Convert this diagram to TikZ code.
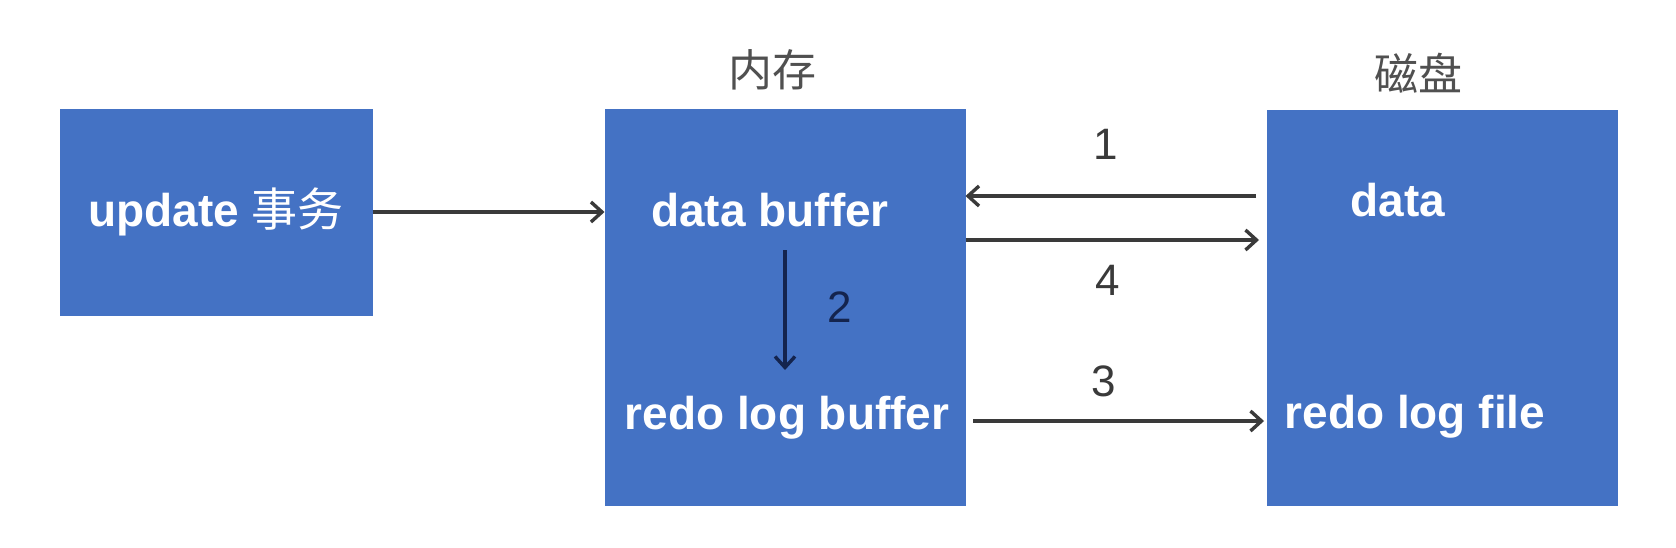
\documentclass[tikz,border=0pt]{standalone}
\usepackage{fontspec}
\setmainfont{Liberation Sans}
\newfontfamily\cjk{Noto Sans CJK SC}
\usetikzlibrary{arrows.meta}
\definecolor{boxblue}{HTML}{4472C4}
\definecolor{arrgray}{HTML}{3A3A3A}
\definecolor{navy}{HTML}{14244E}
\definecolor{lblgray}{HTML}{505050}
\begin{document}
\begin{tikzpicture}[x=0.5pt,y=-0.5pt,
  box/.style={fill=boxblue,draw=boxblue,line width=0.5pt,inner sep=0pt},
  boxtext/.style={text=white,font=\fontsize{23pt}{26pt}\selectfont\bfseries,inner sep=0pt},
  numlbl/.style={text=arrgray,font=\fontsize{22pt}{25pt}\selectfont,inner sep=0pt},
  cjklbl/.style={text=lblgray,font=\fontsize{22pt}{25pt}\selectfont\cjk,inner sep=0pt},
  arr/.style={draw=arrgray,line width=1.7pt,-{Straight Barb[length=5.5pt,width=10pt]}},
  arrnavy/.style={draw=navy,line width=1.7pt,-{Straight Barb[length=5.5pt,width=10pt]}}]
\useasboundingbox[fill=white] (0,0) rectangle (1676,547);
% boxes
\node[box,minimum width=156pt,minimum height=103pt] (upd) at (216,212) {};
\node[box,minimum width=180pt,minimum height=198pt] (mem) at (785,307) {};
\node[box,minimum width=175pt,minimum height=197.5pt] (disk) at (1442,307.5) {};
% headings
\node[cjklbl] (memlbl) at (772,70) {内存};
\node[cjklbl] (disklbl) at (1418,73) {磁盘};
% texts
\node[boxtext] (updtxt) at (216,212) {update {\cjk\mdseries 事务}};
\node[boxtext] (dbuf) at (770,210) {data buffer};
\node[boxtext] (rbuf) at (787,418) {redo log buffer};
\node[boxtext] (ddata) at (1398,200) {data};
\node[boxtext] (rfile) at (1415,417) {redo log file};
% connector end points
\coordinate (a1s) at (1256,196);
\coordinate (a4e) at (1259,240);
\coordinate (a3s) at (973,421);
\coordinate (a3e) at (1264,421);
\coordinate (a2s) at (785,250);
\coordinate (a2e) at (785,370);
% arrows
\draw[arr] (upd.east) -- (mem.west |- upd.east);
\draw[arr] (a1s) -- (mem.east |- a1s);
\draw[arr] (mem.east |- a4e) -- (a4e);
\draw[arr] (a3s) -- (a3e);
\draw[arrnavy] (a2s) -- (a2e);
% numbers
\node[numlbl] (n1) at (1106,144) {1};
\node[numlbl] (n4) at (1108,280) {4};
\node[numlbl] (n3) at (1104,381) {3};
\node[numlbl,text=navy] (n2) at (840,307) {2};
\end{tikzpicture}
\end{document}
